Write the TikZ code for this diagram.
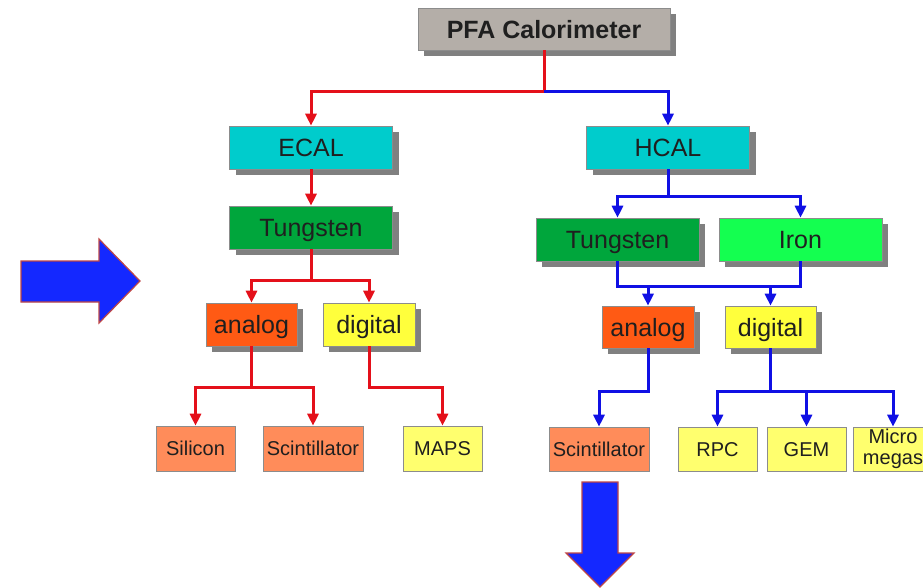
\documentclass[tikz,border=0pt]{standalone}
\usepackage{fontspec}
\setmainfont{Liberation Sans}
\usetikzlibrary{arrows.meta,shadows}

\definecolor{pfagray}{RGB}{180,174,168}
\definecolor{calcyan}{RGB}{0,204,204}
\definecolor{tungreen}{RGB}{0,166,60}
\definecolor{irongreen}{RGB}{20,255,80}
\definecolor{anaorange}{RGB}{255,90,20}
\definecolor{digyellow}{RGB}{255,255,60}
\definecolor{leaforange}{RGB}{255,140,90}
\definecolor{leafyellow}{RGB}{255,255,110}
\definecolor{redln}{RGB}{228,16,26}
\definecolor{blueln}{RGB}{16,16,228}
\definecolor{bigblue}{RGB}{20,40,255}
\definecolor{bigrim}{RGB}{190,70,70}

\tikzset{
  basebox/.style={rectangle, draw=black!45, line width=0.6pt, inner sep=0pt,
    text=black!88, font=\fontsize{25}{28}\selectfont},
  box/.style={basebox, text height=18pt, text depth=0pt},
  shadowbox/.style={box, drop shadow={shadow xshift=6pt, shadow yshift=-6pt,
    fill=black!50, opacity=1}},
  leaf/.style={basebox, text height=14.4pt, text depth=0pt,
    font=\fontsize{20}{21}\selectfont},
  redline/.style={draw=redln, line width=3pt, -{Triangle[length=12pt,width=11pt]}},
  blueline/.style={draw=blueln, line width=3pt, -{Triangle[length=12pt,width=11pt]}},
  bigarrow/.style={fill=bigblue, draw=bigrim, line width=1.2pt}
}

\begin{document}
\begin{tikzpicture}[x=1pt,y=-1pt]
    \useasboundingbox (0,0) rectangle (923,587);

    % Top node
    \node[shadowbox, fill=pfagray, minimum width=252pt, minimum height=42pt,
      font=\bfseries\fontsize{25}{28}\selectfont] (pfa) at (544,29) {PFA Calorimeter};

    % ECAL branch
    \node[shadowbox, fill=calcyan, minimum width=163pt, minimum height=43pt] (ecal) at (311,147.5) {ECAL};
    \node[shadowbox, fill=tungreen, minimum width=163pt, minimum height=43pt] (etung) at (311,227.5) {Tungsten};
    \node[shadowbox, fill=anaorange, minimum width=91pt, minimum height=43pt] (eana) at (251.5,324.5) {analog};
    \node[shadowbox, fill=digyellow, minimum width=92pt, minimum height=43pt] (edig) at (369,324.5) {digital};
    \node[leaf, fill=leaforange, minimum width=79pt, minimum height=45pt] (silicon) at (195.5,448.5) {Silicon};
    \node[leaf, fill=leaforange, minimum width=100pt, minimum height=45pt] (escint) at (313,448.5) {Scintillator};
    \node[leaf, fill=leafyellow, minimum width=79pt, minimum height=45pt] (maps) at (442.5,448.5) {MAPS};

    % HCAL branch
    \node[shadowbox, fill=calcyan, minimum width=163pt, minimum height=43pt] (hcal) at (668,147.5) {HCAL};
    \node[shadowbox, fill=tungreen, minimum width=163pt, minimum height=43pt] (htung) at (617.5,239.5) {Tungsten};
    \node[shadowbox, fill=irongreen, minimum width=163pt, minimum height=43pt] (iron) at (800.5,239.5) {Iron};
    \node[shadowbox, fill=anaorange, minimum width=92pt, minimum height=42pt] (hana) at (648,327) {analog};
    \node[shadowbox, fill=digyellow, minimum width=91pt, minimum height=42pt] (hdig) at (770.5,327) {digital};
    \node[leaf, fill=leaforange, minimum width=100pt, minimum height=44pt] (hscint) at (599,449) {Scintillator};
    \node[leaf, fill=leafyellow, minimum width=79pt, minimum height=44pt] (rpc) at (717.5,449) {RPC};
    \node[leaf, fill=leafyellow, minimum width=79pt, minimum height=44pt] (gem) at (806.5,449) {GEM};
    \node[basebox, fill=leafyellow, align=center, font=\fontsize{20}{21}\selectfont,
      minimum width=80pt, minimum height=44pt] (micro) at (893,449) {Micro\\megas};

    % Junction levels
    \coordinate (top) at (544,91);
    \coordinate (ej1) at (0,280);
    \coordinate (ej2) at (0,387);
    \coordinate (hj1) at (0,196);
    \coordinate (hj2) at (0,286);
    \coordinate (hj3) at (0,391);

    % Red connectors (ECAL)
    \draw[redline] (pfa.south) -- (top) -| (ecal.north);
    \draw[redline] (ecal.south) -- (etung.north);
    \draw[redline] (etung.south) -- (etung.south |- ej1) -| (eana.north);
    \draw[redline] (etung.south |- ej1) -| (edig.north);
    \draw[redline] (eana.south) -- (eana.south |- ej2) -| (silicon.north);
    \draw[redline] (eana.south |- ej2) -| (escint.north);
    \draw[redline] (edig.south) -- (edig.south |- ej2) -| (maps.north);

    % Blue connectors (HCAL)
    \draw[blueline] (top) -| (hcal.north);
    \draw[blueline] (hcal.south) -- (hcal.south |- hj1) -| (htung.north);
    \draw[blueline] (hcal.south |- hj1) -| (iron.north);
    \draw[blueline,-] (htung.south) |- (iron.south |- hj2) -- (iron.south);
    \draw[blueline] (hana.north |- hj2) -- (hana.north);
    \draw[blueline] (hdig.north |- hj2) -- (hdig.north);
    \draw[blueline] (hana.south) -- (hana.south |- hj3) -| (hscint.north);
    \draw[blueline] (hdig.south) -- (hdig.south |- hj3) -| (rpc.north);
    \draw[blueline] (hdig.south |- hj3) -| (micro.north);
    \draw[blueline] (gem.north |- hj3) -- (gem.north);

    % Big arrows
    \draw[bigarrow] (21,261) -- (99,261) -- (99,239) -- (140,281) -- (99,323)
      -- (99,302) -- (21,302) -- cycle;
    \draw[bigarrow] (582,482) -- (618,482) -- (618,553) -- (634,553) -- (600,587)
      -- (566,553) -- (582,553) -- cycle;
\end{tikzpicture}
\end{document}
